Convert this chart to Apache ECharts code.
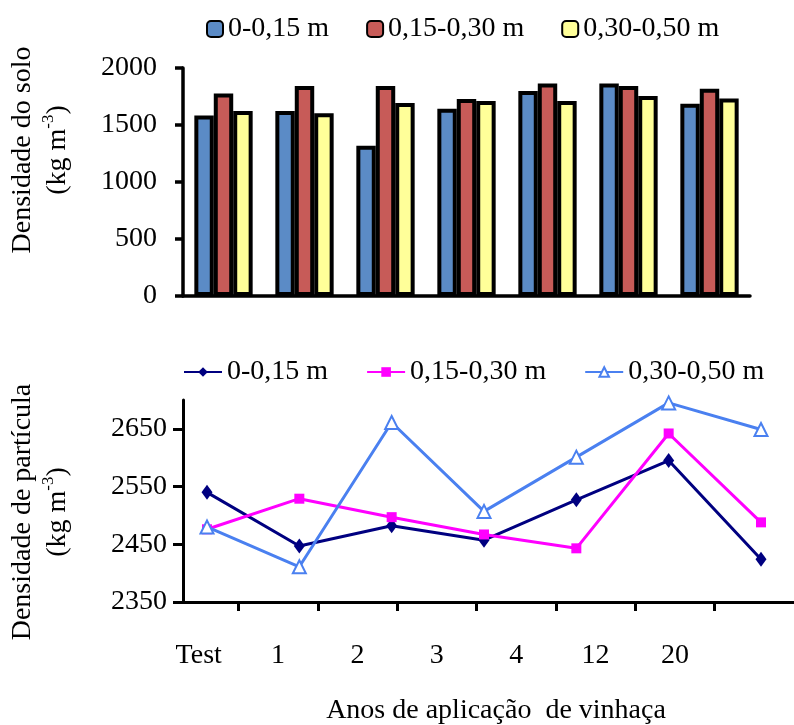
<!DOCTYPE html>
<html>
<head>
<meta charset="utf-8">
<script src="https://cdn.jsdelivr.net/npm/echarts@6/dist/echarts.min.js"></script>
<style>
  html, body { margin: 0; padding: 0; background: #fff; }
  #chart { width: 794px; height: 725px; }
</style>
</head>
<body>
<div id="chart"></div>
<script>
// Years of vinasse application (Test = no application)
const years = ['Test', '1', '2', '3', '4', '12', '20'];
const depths = ['0-0,15 m', '0,15-0,30 m', '0,30-0,50 m'];

// Soil bulk density, kg m-3
const soil0015 = [1584, 1622, 1318, 1643, 1799, 1864, 1687];
const soil1530 = [1776, 1843, 1843, 1729, 1864, 1843, 1817];
const soil3050 = [1622, 1604, 1693, 1711, 1711, 1755, 1732];

// Particle density, kg m-3
const part0015 = [2540, 2447, 2482, 2457, 2527, 2595, 2424];
const part1530 = [2476, 2529, 2497, 2467, 2443, 2642, 2488];
const part3050 = [2480, 2411, 2661, 2507, 2601, 2695, 2649];

const soilTicks = [0, 500, 1000, 1500, 2000];
const particleTicks = [2350, 2450, 2550, 2650];

const serif = 'Liberation Serif';
const barColors = ['#5b8bc6', '#c75b58', '#ffff99'];
const lineColors = ['#000080', '#ff00ff', '#4a80f0'];
const lineSymbols = ['diamond', 'rect', 'emptyTriangle'];
const lineSymbolSizes = [[11, 15], 10, 13];

const soilData = [soil0015, soil1530, soil3050];
const particleData = [part0015, part1530, part3050];
const lineName = d => 'p:' + d;

// year axis of the lower panel: band i spans [i, i + 1]; ticks between bands, names centred
const yearBoundaries = years.map((_, i) => i + 1);
const yearCentres = years.map((_, i) => i + 0.5);

const txt = { fontFamily: serif, fontSize: 28, color: '#000' };
const black = { color: '#000', width: 3 };
const plain = v => String(v);

const chart = echarts.init(document.getElementById('chart'));

chart.setOption({
  animation: false,
  backgroundColor: '#fff',
  textStyle: { fontFamily: serif },
  legend: [
    {
      data: depths,
      left: 206, top: 15, padding: 0,
      itemWidth: 16, itemHeight: 16, itemGap: 37,
      textStyle: txt
    },
    {
      data: depths.map(lineName),
      formatter: n => n.replace(/^p:/, ''),
      left: 183, top: 358, padding: 0,
      itemWidth: 38, itemHeight: 12, itemGap: 38,
      textStyle: txt
    }
  ],
  grid: [
    { left: 183, top: 68, width: 567, height: 228 },
    { left: 177, top: 400, width: 618, height: 202 },
    { left: 207, top: 400, width: 554, height: 202 }
  ],
  xAxis: [
    {
      gridIndex: 0, type: 'category', data: years, boundaryGap: true,
      axisLine: { lineStyle: { color: '#000', width: 3.5 } },
      axisTick: { length: 8, lineStyle: { color: '#000', width: 3.5 } },
      axisLabel: { show: false }
    },
    {
      gridIndex: 1, type: 'value', min: 0.226, max: 8,
      splitLine: { show: false },
      axisLine: { show: true, lineStyle: black },
      axisTick: { show: true, length: 9, customValues: yearBoundaries, lineStyle: black },
      axisLabel: Object.assign({
        margin: 40, customValues: yearCentres,
        formatter: v => years[Math.round(v - 0.5)] || ''
      }, txt)
    },
    {
      gridIndex: 2, type: 'category', data: years, boundaryGap: false, show: false
    }
  ],
  yAxis: [
    {
      gridIndex: 0, type: 'value', min: 0, max: 2000, interval: 500,
      axisLine: { show: true, lineStyle: { color: '#000', width: 3.5 } },
      axisTick: { show: true, length: 8, customValues: soilTicks, lineStyle: { color: '#000', width: 3.5 } },
      axisLabel: Object.assign({ margin: 26, customValues: soilTicks, formatter: plain }, txt),
      splitLine: { show: false }
    },
    { gridIndex: 1, type: 'value', show: false, splitLine: { show: false } },
    {
      gridIndex: 2, type: 'value', min: 2350, max: 2700, offset: 24,
      axisLine: { show: true, lineStyle: black },
      axisTick: { show: true, length: 10, customValues: particleTicks, lineStyle: black },
      axisLabel: Object.assign({ margin: 16, customValues: particleTicks, formatter: plain }, txt),
      splitLine: { show: false }
    }
  ],
  series: soilData.map((vals, i) => ({
    type: 'bar', name: depths[i], data: vals,
    xAxisIndex: 0, yAxisIndex: 0,
    barGap: '0%', barCategoryGap: '28%',
    itemStyle: { color: barColors[i], borderColor: '#000', borderWidth: 4 }
  })).concat(particleData.map((vals, i) => ({
    type: 'line', name: lineName(depths[i]), data: vals,
    xAxisIndex: 2, yAxisIndex: 2,
    symbol: lineSymbols[i], symbolSize: lineSymbolSizes[i],
    lineStyle: { color: lineColors[i], width: 3 },
    itemStyle: { color: lineColors[i], borderWidth: i === 2 ? 2.5 : 0 }
  }))),
  graphic: [
    {
      type: 'text', x: 40, y: 150, rotation: Math.PI / 2,
      style: {
        text: 'Densidade do solo\n(kg m{sup|-3})',
        fontFamily: serif, fontSize: 28, fill: '#000',
        align: 'center', verticalAlign: 'middle', lineHeight: 35,
        rich: { sup: { fontFamily: serif, fontSize: 17, verticalAlign: 'top', lineHeight: 35 } }
      }
    },
    {
      type: 'text', x: 40, y: 512, rotation: Math.PI / 2,
      style: {
        text: 'Densidade de partícula\n(kg m{sup|-3})',
        fontFamily: serif, fontSize: 28, fill: '#000',
        align: 'center', verticalAlign: 'middle', lineHeight: 35,
        rich: { sup: { fontFamily: serif, fontSize: 17, verticalAlign: 'top', lineHeight: 35 } }
      }
    },
    {
      type: 'text', x: 496, y: 697,
      style: {
        text: 'Anos de aplicação  de vinhaça',
        fontFamily: serif, fontSize: 28, fill: '#000',
        align: 'center', verticalAlign: 'top'
      }
    }
  ]
});
</script>
</body>
</html>
